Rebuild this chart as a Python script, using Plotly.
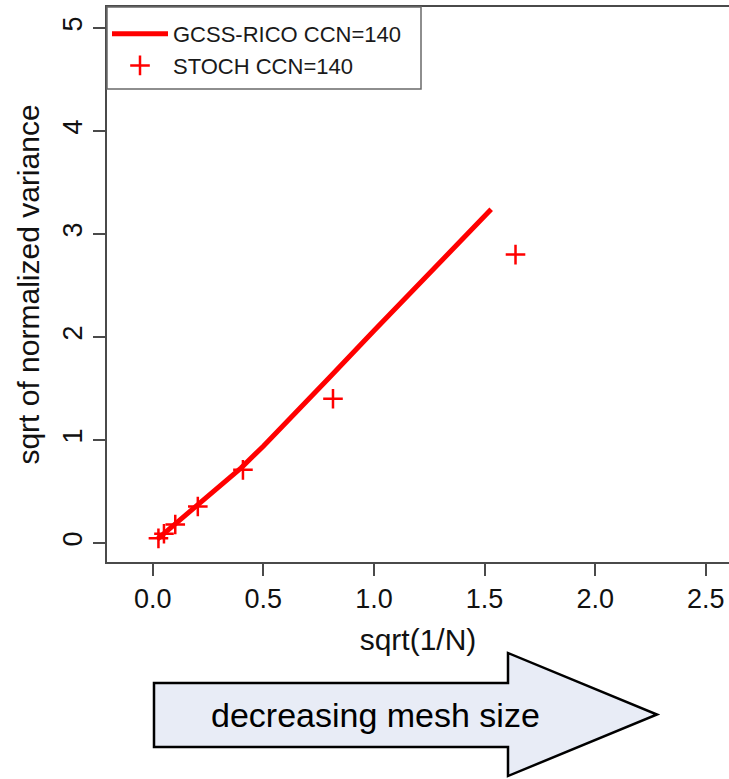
import plotly.graph_objects as go

# ---- data ----
gcss_x = [0.02, 0.1, 0.2, 0.3, 0.4, 0.5, 0.6, 0.8, 1.0, 1.2, 1.4, 1.53]
gcss_y = [0.035, 0.18, 0.36, 0.55, 0.73, 0.94, 1.16, 1.61, 2.06, 2.50, 2.95, 3.24]
stoch_x = [1.64, 0.815, 0.408, 0.204, 0.102, 0.051, 0.026]
stoch_y = [2.80, 1.40, 0.71, 0.355, 0.18, 0.09, 0.045]
x_ticks = [0.0, 0.5, 1.0, 1.5, 2.0, 2.5]
x_ticklabels = ["0.0", "0.5", "1.0", "1.5", "2.0", "2.5"]
y_ticks = [0, 1, 2, 3, 4, 5]
y_ticklabels = ["0", "1", "2", "3", "4", "5"]
series_names = ["GCSS-RICO CCN=140", "STOCH CCN=140"]
x_title = "sqrt(1/N)"
y_title = "sqrt of normalized variance"
arrow_text = "decreasing mesh size"

# ---- layout geometry (pixels) ----
W, H = 729, 779
L, R, T, B = 107, 0, 7, 217
PW, PH = W - L - R, H - T - B
FONT = "Liberation Sans, Arial, Helvetica, sans-serif"
AXC = "#4a4a4a"


def px(xp):
    return (xp - L) / PW


def py(yp):
    return (H - B - yp) / PH


fig = go.Figure()
fig.add_trace(go.Scatter(x=gcss_x, y=gcss_y, mode="lines", name=series_names[0],
                         line=dict(color="#ff0000", width=5)))
fig.add_trace(go.Scatter(x=stoch_x, y=stoch_y, mode="markers", name=series_names[1],
                         marker=dict(symbol="cross-thin", size=14, color="#ff0000",
                                     line=dict(color="#ff0000", width=2.5))))

# arrow polygon (pixel vertices -> paper)
verts = [(154, 683), (508, 683), (508, 653), (657, 714.5), (508, 776), (508, 747), (154, 747)]
path = "M " + " L ".join(f"{px(a):.5f},{py(b):.5f}" for a, b in verts) + " Z"
shapes = [
    dict(type="path", xref="paper", yref="paper", path=path,
         fillcolor="#e8ecf6", line=dict(color="#000000", width=2.5), layer="above"),
    dict(type="rect", xref="paper", yref="paper", x0=px(107), x1=px(421), y0=py(89), y1=py(7),
         line=dict(color="#6a6a6a", width=1.5), fillcolor="rgba(0,0,0,0)"),
]

fig.update_layout(
    width=W, height=H,
    margin=dict(l=L, r=R, t=T, b=B, pad=0),
    paper_bgcolor="white", plot_bgcolor="white",
    font=dict(family=FONT, color="#000000"),
    showlegend=True,
    legend=dict(x=px(107), y=py(13), xanchor="left", yanchor="top",
                bgcolor="rgba(0,0,0,0)", borderwidth=0,
                font=dict(size=22, family=FONT, color="#1a1a1a"),
                itemwidth=56, tracegroupgap=0),
    shapes=shapes,
    annotations=[dict(text=arrow_text, xref="paper", yref="paper", x=px(375), y=py(715),
                      showarrow=False, font=dict(size=34, family=FONT, color="#000000"),
                      xanchor="center", yanchor="middle")],
)
fig.update_xaxes(range=[-0.2065, 2.605], tickvals=x_ticks, ticktext=x_ticklabels,
                 showgrid=False, zeroline=False, showline=True, linecolor=AXC, linewidth=2,
                 mirror=True, ticks="outside", ticklen=12, tickwidth=2, tickcolor=AXC,
                 tickfont=dict(size=27, family=FONT, color="#111111"),
                 title=dict(text=x_title, font=dict(size=30, family=FONT, color="#111111"), standoff=16))
fig.update_yaxes(range=[-0.1845, 5.204], tickvals=y_ticks, ticktext=y_ticklabels,
                 showgrid=False, zeroline=False, showline=True, linecolor=AXC, linewidth=2,
                 ticks="outside", ticklen=12, tickwidth=2, tickcolor=AXC, tickangle=-90,
                 tickfont=dict(size=27, family=FONT, color="#111111"),
                 title=dict(text=y_title, font=dict(size=30, family=FONT, color="#111111"), standoff=10))

fig.write_html("out.html", config={"displayModeBar": False})
